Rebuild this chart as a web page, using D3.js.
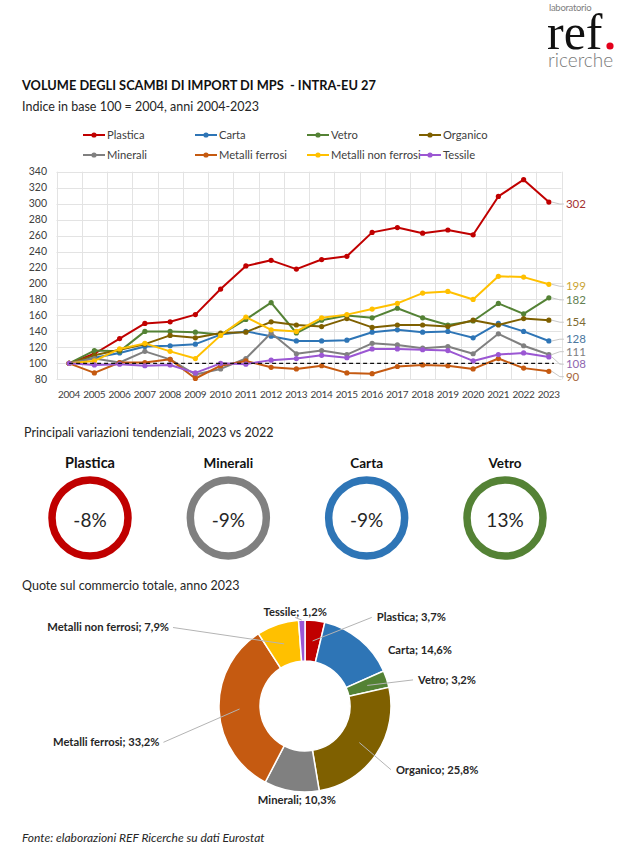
<!DOCTYPE html>
<html>
<head>
<meta charset="utf-8">
<script src="https://cdn.jsdelivr.net/npm/d3@7"></script>
<style>
  body { margin: 0; background: #fff; }
  svg { display: block; font-family: Lato, 'Open Sans', sans-serif; }
</style>
</head>
<body>
<div id="chart"></div>
<script>
// ---------------- data ----------------
var years = ['2004','2005','2006','2007','2008','2009','2010','2011','2012','2013',
             '2014','2015','2016','2017','2018','2019','2020','2021','2022','2023'];

var plastica   = [100,112,131,150,152,161,193,222,229,218,230,234,264,270,263,267,261,309,330,302];
var carta      = [100,107,113,121,122,124,136,140,134,128,128,129,139,142,139,140,132,150,140,128];
var vetro      = [100,116,115,140,140,139,136,155,176,138,154,160,157,169,157,148,153,175,162,182];
var organico   = [100,110,117,124,135,132,138,139,152,148,146,156,145,148,148,146,154,148,156,154];
var minerali   = [100,106,101,115,105,86,93,106,138,112,116,111,125,123,119,121,112,137,122,111];
var ferrosi    = [100,88,101,101,105,81,97,103,95,93,97,88,87,96,98,97,93,106,94,90];
var nonFerrosi = [100,103,118,125,115,106,135,158,142,140,157,161,168,175,188,190,180,209,208,199];
var tessile    = [100,98,99,97,98,88,100,99,104,106,110,107,118,118,117,116,103,111,113,108];

var seriesNames  = ['Plastica','Carta','Vetro','Organico','Minerali','Metalli ferrosi','Metalli non ferrosi','Tessile'];
var seriesValues = [plastica, carta, vetro, organico, minerali, ferrosi, nonFerrosi, tessile];
var yTicks = [80,100,120,140,160,180,200,220,240,260,280,300,320,340];
var baseValue = 100;

var ringNames  = ['Plastica','Minerali','Carta','Vetro'];
var ringValues = [-8, -9, -9, 13];

var shareNames  = ['Plastica','Carta','Vetro','Organico','Minerali','Metalli ferrosi','Metalli non ferrosi','Tessile'];
var shareValues = [3.7, 14.6, 3.2, 25.8, 10.3, 33.2, 7.9, 1.2];

// ---------------- styles / layout ----------------
var colors = {
  'Plastica': '#c00000',
  'Carta': '#2e75b6',
  'Vetro': '#548235',
  'Organico': '#7f6000',
  'Minerali': '#808080',
  'Metalli ferrosi': '#c55a11',
  'Metalli non ferrosi': '#ffc000',
  'Tessile': '#9b57d3'
};

// pie label placement (angle in degrees from 12 o'clock, radius px), leader: 0 none, 1 from centroid, 2 from rim
var pieLabelAngle  = [39, 56, 77, 125, 185, 256, 300, 354];
var pieLabelRadius = [114, 100, 116, 111, 94, 150, 157, 94];
var pieLeader      = [1, 0, 1, 1, 0, 1, 1, 2];

var width = 628, height = 857;
var textColor = '#404040';

var svg = d3.select('#chart')
  .append('svg')
  .attr('width', width)
  .attr('height', height);

// ---------------- logo ----------------
var logo = svg.append('g');
logo.append('text')
  .attr('x', 549).attr('y', 11)
  .attr('font-size', 9.5)
  .attr('fill', '#808080')
  .attr('letter-spacing', -0.3)
  .text('laboratorio');
logo.append('text')
  .attr('x', 547).attr('y', 49)
  .attr('font-family', "'Liberation Serif', serif")
  .attr('font-size', 50)
  .attr('fill', '#111')
  .text('ref');
logo.append('circle')
  .attr('cx', 610).attr('cy', 46).attr('r', 3.6)
  .attr('fill', '#e3001b');
logo.append('text')
  .attr('x', 548).attr('y', 67)
  .attr('font-size', 19)
  .attr('font-weight', 300)
  .attr('fill', '#7a7a7a')
  .text('ricerche');

// ---------------- titles ----------------
svg.append('text')
  .attr('x', 22).attr('y', 90)
  .attr('font-size', 12.8)
  .attr('font-weight', 'bold')
  .attr('fill', '#111')
  .attr('xml:space', 'preserve')
  .text('VOLUME DEGLI SCAMBI DI IMPORT DI MPS  - INTRA-EU 27');

svg.append('text')
  .attr('x', 22).attr('y', 111)
  .attr('font-size', 12.5)
  .attr('fill', '#262626')
  .text('Indice in base 100 = 2004, anni 2004-2023');

// ---------------- line chart ----------------
var x_scale = d3.scaleBand()
  .domain(years)
  .range([56.5, 561.5]);

var y_scale = d3.scaleLinear()
  .domain([80, 340])
  .range([379.3, 171.7]);

var xc = function(yr) { return x_scale(yr) + x_scale.bandwidth() / 2; };

var grid = svg.append('g').attr('stroke', '#e3e3e3').attr('stroke-width', 1);
grid.selectAll('.hg')
  .data(yTicks)
  .enter()
  .append('line')
  .attr('x1', 56.5).attr('x2', 561.5)
  .attr('y1', function(d) { return Math.round(y_scale(d)) + 0.5; })
  .attr('y2', function(d) { return Math.round(y_scale(d)) + 0.5; });
grid.selectAll('.vg')
  .data(years.concat(['end']))
  .enter()
  .append('line')
  .attr('x1', function(d, i) { return Math.round(56.5 + i * x_scale.bandwidth()) + 0.5; })
  .attr('x2', function(d, i) { return Math.round(56.5 + i * x_scale.bandwidth()) + 0.5; })
  .attr('y1', y_scale(340)).attr('y2', y_scale(80));

// y axis labels
svg.append('g')
  .attr('font-size', 10.5)
  .attr('fill', textColor)
  .attr('text-anchor', 'end')
  .selectAll('text')
  .data(yTicks)
  .enter()
  .append('text')
  .attr('x', 47)
  .attr('y', function(d) { return y_scale(d); })
  .attr('dy', '0.35em')
  .text(function(d) { return d; });

// x axis labels
svg.append('g')
  .attr('font-size', 10)
  .attr('letter-spacing', -0.3)
  .attr('fill', textColor)
  .attr('text-anchor', 'middle')
  .selectAll('text')
  .data(years)
  .enter()
  .append('text')
  .attr('x', function(d) { return xc(d); })
  .attr('y', 398)
  .text(function(d) { return d; });

// series
var line = d3.line()
  .x(function(d, i) { return xc(years[i]); })
  .y(function(d) { return y_scale(d); });

seriesValues.forEach(function(vals, s) {
  var c = colors[seriesNames[s]];
  var g = svg.append('g');
  g.append('path')
    .datum(vals)
    .attr('d', line)
    .attr('fill', 'none')
    .attr('stroke', c)
    .attr('stroke-width', 2)
    .attr('stroke-linejoin', 'round');
  g.selectAll('circle')
    .data(vals)
    .enter()
    .append('circle')
    .attr('cx', function(d, i) { return xc(years[i]); })
    .attr('cy', function(d) { return y_scale(d); })
    .attr('r', 2.6)
    .attr('fill', c);
});

// base 100 dashed line
svg.append('line')
  .attr('x1', xc(years[0])).attr('x2', xc(years[years.length - 1]) + 5)
  .attr('y1', y_scale(baseValue)).attr('y2', y_scale(baseValue))
  .attr('stroke', '#111')
  .attr('stroke-width', 1.3)
  .attr('stroke-dasharray', '4,3');

// end labels with leaders
var lastX = xc(years[years.length - 1]);
var ends = seriesValues.map(function(vals, s) {
  var v = vals[vals.length - 1];
  return { name: seriesNames[s], v: v, py: y_scale(v), ly: y_scale(v) };
});
ends.sort(function(a, b) { return a.py - b.py; });
var gap = 12.5;
for (var it = 0; it < 60; it++) {
  for (var k = 1; k < ends.length; k++) {
    var d = ends[k].ly - ends[k - 1].ly;
    if (d < gap) {
      var shift = (gap - d) / 2;
      ends[k].ly += shift;
      ends[k - 1].ly -= shift;
    }
  }
}
var endG = svg.append('g').attr('font-size', 11.5);
ends.forEach(function(e) {
  var c = colors[e.name];
  endG.append('polyline')
    .attr('points', [[lastX + 3, e.py], [lastX + 11, e.ly + 2], [lastX + 15, e.ly + 2]].join(' '))
    .attr('fill', 'none')
    .attr('stroke', '#c8c8c8')
    .attr('stroke-width', 1);
  endG.append('text')
    .attr('x', lastX + 17)
    .attr('y', e.ly + 2)
    .attr('dy', '0.35em')
    .attr('fill', d3.interpolateRgb(c, '#7a7a7a')(0.4))
    .text(e.v);
});

// legend
var legend = svg.append('g').attr('font-size', 11.2).attr('fill', textColor);
seriesNames.forEach(function(name, i) {
  var col = i % 4, row = Math.floor(i / 4);
  var lx = 83 + col * 112, ly = 135 + row * 20;
  var c = colors[name];
  legend.append('line')
    .attr('x1', lx).attr('x2', lx + 22)
    .attr('y1', ly).attr('y2', ly)
    .attr('stroke', c).attr('stroke-width', 2);
  legend.append('circle')
    .attr('cx', lx + 11).attr('cy', ly).attr('r', 2.6).attr('fill', c);
  legend.append('text')
    .attr('x', lx + 24).attr('y', ly)
    .attr('dy', '0.35em')
    .text(name);
});

// ---------------- rings ----------------
svg.append('text')
  .attr('x', 24).attr('y', 437)
  .attr('font-size', 12.5)
  .attr('fill', '#262626')
  .text('Principali variazioni tendenziali, 2023 vs 2022');

var ring_x = d3.scalePoint()
  .domain(ringNames)
  .range([90, 505]);

var ringG = svg.selectAll('.ring')
  .data(ringNames)
  .enter()
  .append('g')
  .attr('transform', function(d) { return 'translate(' + ring_x(d) + ',518)'; });

ringG.append('circle')
  .attr('r', 38)
  .attr('fill', 'none')
  .attr('stroke', function(d) { return colors[d]; })
  .attr('stroke-width', 7.5);

ringG.append('text')
  .attr('y', -50)
  .attr('text-anchor', 'middle')
  .attr('font-size', function(d, i) { return i === 0 ? 14.5 : 13.5; })
  .attr('font-weight', 'bold')
  .attr('fill', '#111')
  .text(function(d) { return d; });

ringG.append('text')
  .attr('y', 2)
  .attr('dy', '0.35em')
  .attr('text-anchor', 'middle')
  .attr('font-size', 19)
  .attr('fill', '#262626')
  .text(function(d, i) { return ringValues[i] + '%'; });

// ---------------- donut ----------------
svg.append('text')
  .attr('x', 22).attr('y', 590)
  .attr('font-size', 12.5)
  .attr('fill', '#262626')
  .text('Quote sul commercio totale, anno 2023');

var cx = 305, cy = 706, rOuter = 86, rInner = 45;
var pie = d3.pie().sort(null).value(function(d) { return d; });
var arcs = pie(shareValues);
var arc = d3.arc().innerRadius(rInner).outerRadius(rOuter);

var donut = svg.append('g').attr('transform', 'translate(' + cx + ',' + cy + ')');
donut.selectAll('path')
  .data(arcs)
  .enter()
  .append('path')
  .attr('d', arc)
  .attr('fill', function(d, i) { return colors[shareNames[i]]; })
  .attr('stroke', '#fff')
  .attr('stroke-width', 1.5);

var fmt = function(v) { return d3.format('.1f')(v).replace('.', ',') + '%'; };
arcs.forEach(function(a, i) {
  var ang = pieLabelAngle[i] * Math.PI / 180;
  var lx = Math.sin(ang) * pieLabelRadius[i];
  var ly = -Math.cos(ang) * pieLabelRadius[i];
  var s = Math.sin(ang);
  var anchor = s > 0.3 ? 'start' : (s < -0.3 ? 'end' : 'middle');
  if (pieLeader[i]) {
    var mid = (a.startAngle + a.endAngle) / 2;
    var r0 = pieLeader[i] === 1 ? (rInner + rOuter) / 2 : rOuter;
    var sx = Math.sin(mid) * r0, sy = -Math.cos(mid) * r0;
    var ex = anchor === 'start' ? lx - 5 : (anchor === 'end' ? lx + 4 : lx);
    var ey = anchor === 'middle' ? ly + 5 : ly;
    donut.append('line')
      .attr('x1', sx).attr('y1', sy)
      .attr('x2', ex).attr('y2', ey)
      .attr('stroke', '#b4b4b4')
      .attr('stroke-width', 1);
  }
  donut.append('text')
    .attr('x', lx).attr('y', ly)
    .attr('dy', '0.35em')
    .attr('text-anchor', anchor)
    .attr('font-size', 11.2)
    .attr('font-weight', 'bold')
    .attr('fill', '#262626')
    .text(shareNames[i] + '; ' + fmt(shareValues[i]));
});

// ---------------- source ----------------
svg.append('text')
  .attr('x', 22).attr('y', 842)
  .attr('font-size', 12)
  .attr('font-style', 'italic')
  .attr('fill', '#262626')
  .text('Fonte: elaborazioni REF Ricerche su dati Eurostat');
</script>
</body>
</html>
